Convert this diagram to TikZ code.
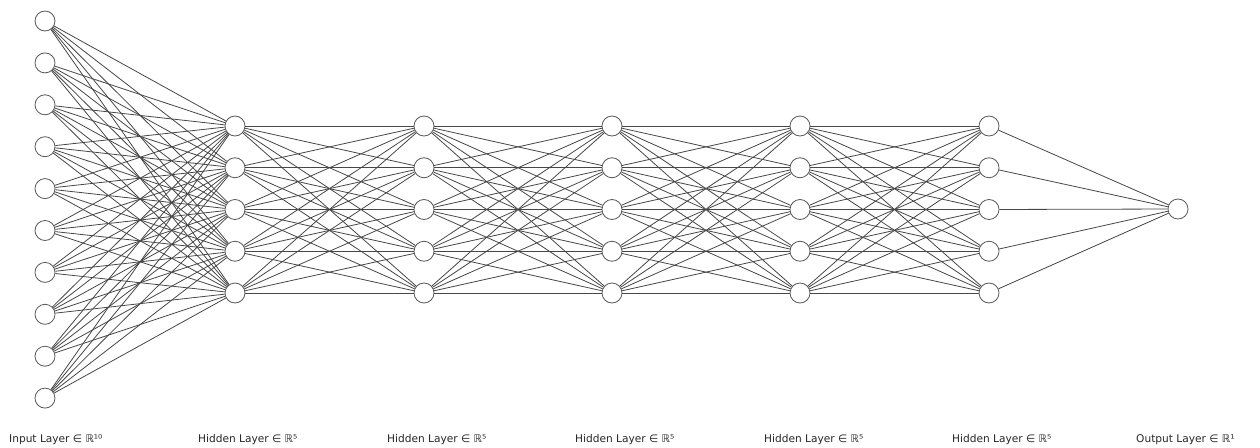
\documentclass[tikz,border=0pt]{standalone}
\usepackage{fontspec}
\setmainfont{DejaVu Sans}
\tikzset{
  neuron/.style={circle, draw=black!65, fill=white, line width=0.8pt, minimum size=20pt, inner sep=0pt},
  synapse/.style={draw=black!72, line width=0.8pt},
  layerlabel/.style={anchor=base west, inner sep=0pt, font=\fontsize{10.6}{12}\selectfont, text=black!85}
}
\begin{document}
\begin{tikzpicture}[x=1pt, y=-1pt]
\useasboundingbox (0,0) rectangle (1260,447);

% input layer
\foreach \i in {1,...,10}
  \node (in\i) [neuron] at (45, {21+(\i-1)*41.9}) {};

% hidden layers
\foreach \l/\x in {1/235, 2/424, 3/612, 4/800, 5/989}
  \foreach \i in {1,...,5}
    \node (h\l\i) [neuron] at (\x, {126+(\i-1)*41.75}) {};

% output layer
\node (out) [neuron] at (1178, 209) {};

% connections
\foreach \i in {1,...,10}
  \foreach \j in {1,...,5}
    \draw [synapse] (in\i) -- (h1\j);
\foreach \l/\m in {1/2, 2/3, 3/4, 4/5}
  \foreach \i in {1,...,5}
    \foreach \j in {1,...,5}
      \draw [synapse] (h\l\i) -- (h\m\j);
\foreach \i in {1,...,5}
  \draw [synapse] (h5\i) -- (out);

% labels
\node (lin) [layerlabel] at (9, 442) {Input Layer ∈ ℝ¹⁰};
\node (lh1) [layerlabel] at (198, 442) {Hidden Layer ∈ ℝ⁵};
\node (lh2) [layerlabel] at (387, 442) {Hidden Layer ∈ ℝ⁵};
\node (lh3) [layerlabel] at (575, 442) {Hidden Layer ∈ ℝ⁵};
\node (lh4) [layerlabel] at (764, 442) {Hidden Layer ∈ ℝ⁵};
\node (lh5) [layerlabel] at (952, 442) {Hidden Layer ∈ ℝ⁵};
\node (lout) [layerlabel] at (1136, 442) {Output Layer ∈ ℝ¹};
\end{tikzpicture}
\end{document}
